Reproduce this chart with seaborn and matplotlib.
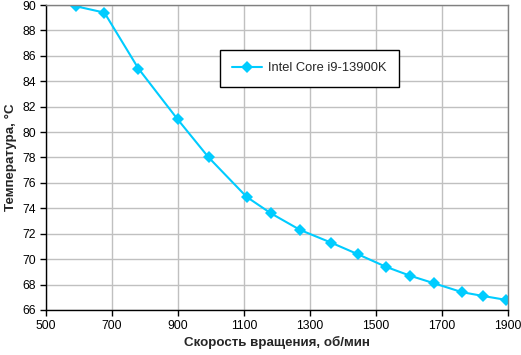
import pandas as pd
import matplotlib.pyplot as plt
import seaborn as sns

# скорость вентилятора (об/мин) и температура CPU (°C)
rpm = [591, 677, 780, 899, 993, 1108, 1182, 1270, 1364, 1444, 1530, 1603, 1676, 1761, 1825, 1893]
temp = [89.9, 89.4, 85.0, 81.0, 78.0, 74.9, 73.6, 72.3, 71.3, 70.4, 69.4, 68.7, 68.1, 67.4, 67.1, 66.8]
series_name = 'Intel Core i9-13900K'
x_ticks = list(range(500, 2000, 200))
y_ticks = list(range(66, 92, 2))

df = pd.DataFrame({'rpm': rpm, 'temp': temp, 'cpu': series_name})

sns.set_theme(style="whitegrid")
plt.rcParams['font.family'] = ['Liberation Sans', 'DejaVu Sans']

fig = plt.figure(figsize=(5.21, 3.55), dpi=100)
ax = fig.add_axes([0.0883, 0.1268, 0.8867, 0.8591])

sns.lineplot(data=df, x='rpm', y='temp', hue='cpu', palette=['#00CCFF'],
             marker='D', markersize=6.5, markeredgewidth=0, linewidth=1.5, ax=ax)

ax.set_xlim(500, 1900)
ax.set_ylim(66, 90)
ax.set_xticks(x_ticks)
ax.set_yticks(y_ticks)
ax.tick_params(axis='both', labelsize=8.7, colors='black', direction='out',
               length=4, width=1, left=True, bottom=True, pad=3)
ax.grid(True, color='#C0C0C0', linewidth=1)
ax.set_facecolor('white')

for side in ['left', 'bottom']:
    ax.spines[side].set_color('black')
    ax.spines[side].set_linewidth(1)
for side in ['top', 'right']:
    ax.spines[side].set_color('#808080')
    ax.spines[side].set_linewidth(1)

ax.set_xlabel('Скорость вращения, об/мин', fontsize=9.6, fontweight='bold', labelpad=3)
ax.set_ylabel('Температура, °C', fontsize=9.6, fontweight='bold', labelpad=4)

leg = ax.legend(loc='center', bbox_to_anchor=(0.57, 0.792), fontsize=9.3, frameon=True,
                fancybox=False, edgecolor='black', framealpha=1, handlelength=2.3,
                handletextpad=0.5, borderpad=0.95, borderaxespad=0)
leg.get_frame().set_linewidth(1)
leg.set_title(None)

plt.savefig('out.png', dpi=100)
plt.close()
